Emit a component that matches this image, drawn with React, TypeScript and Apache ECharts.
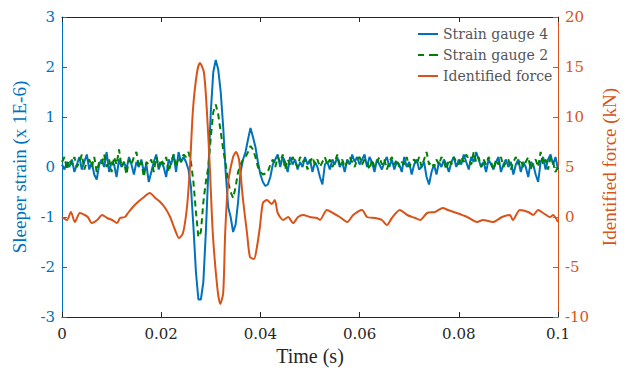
import React, { useEffect, useRef } from "react";
import * as echarts from "echarts";

const STEP = 0.0005;

const gauge4 = [
  0.05, -0.05, 0.1, 0.0, 0.15, -0.1, 0.05, 0.2, -0.05, 0.1,
  0.25, -0.05, 0.1, -0.15, -0.25, 0.05, 0.15, 0.0, 0.3, -0.1,
  0.1, 0.05, -0.2, 0.15, 0.0, 0.1, -0.05, 0.2, 0.05, -0.15,
  0.1, 0.0, 0.15, -0.1, 0.05, -0.3, -0.1, 0.1, 0.25, -0.05,
  0.1, 0.0, -0.2, 0.15, 0.05, 0.25, -0.1, 0.3, 0.1, 0.2,
  0.1, -0.05, -0.4, -1.2, -2.1, -2.65, -2.65, -2.3, -1.3, -0.1,
  1.1, 1.9, 2.14, 1.95, 1.5, 0.8, -0.1, -0.8, -1.0, -1.3,
  -1.15, -0.7, -0.1, 0.15, 0.3, 0.55, 0.78, 0.6, 0.4, 0.1,
  -0.15, -0.3, -0.38, -0.35, -0.2, 0.05, 0.15, 0.25, 0.0, 0.2,
  0.1, -0.1, 0.2, 0.05, 0.15, -0.05, 0.1, 0.0, 0.2, 0.05,
  0.15, -0.1, 0.1, 0.0, -0.2, -0.35, 0.05, 0.1, -0.05, 0.15,
  0.05, 0.2, 0.0, 0.1, -0.1, 0.15, 0.05, 0.25, 0.1, 0.2,
  0.05, 0.15, 0.25, 0.0, 0.2, 0.1, -0.1, 0.15, 0.05, -0.05,
  0.1, 0.2, 0.0, 0.15, -0.05, 0.1, 0.05, -0.1, 0.2, 0.0,
  0.1, -0.15, 0.05, 0.15, -0.05, 0.0, 0.1, -0.2, -0.35, -0.1,
  0.05, -0.15, 0.1, 0.0, 0.15, 0.05, -0.1, 0.1, 0.2, 0.0,
  0.15, 0.05, 0.25, 0.1, -0.05, 0.2, 0.1, 0.3, 0.15, 0.0,
  0.1, -0.1, 0.15, 0.05, -0.05, 0.1, 0.2, -0.1, 0.05, 0.15,
  0.0, 0.1, -0.15, 0.05, 0.15, -0.1, 0.1, 0.0, -0.2, 0.1,
  0.05, -0.15, -0.3, 0.1, 0.2, -0.05, 0.15, 0.25, 0.05, 0.2,
  -0.05,
];

const gauge2 = [
  0.1, 0.2, -0.05, 0.15, 0.05, 0.2, 0.0, 0.1, 0.25, -0.05,
  0.1, 0.15, 0.0, 0.2, -0.1, 0.1, 0.05, 0.25, 0.0, 0.15,
  -0.1, 0.2, 0.05, 0.35, 0.0, 0.1, -0.15, 0.15, 0.05, 0.2,
  0.3, 0.0, 0.1, -0.2, 0.1, 0.05, 0.15, -0.1, 0.2, 0.0,
  0.15, 0.05, 0.2, -0.1, 0.1, 0.25, 0.0, 0.2, 0.1, 0.25,
  0.2, 0.3, 0.1, -0.3, -0.9, -1.4, -1.3, -0.7, -0.3, 0.0,
  0.6, 1.1, 1.25, 1.05, 0.7, 0.35, 0.05, -0.3, -0.5, -0.62,
  -0.4, -0.1, 0.05, 0.15, 0.2, 0.3, 0.42, 0.35, 0.2, 0.0,
  -0.1, -0.15, -0.13, -0.1, 0.05, 0.15, 0.0, 0.2, 0.1, 0.25,
  -0.05, 0.15, 0.05, 0.2, 0.1, 0.0, 0.2, 0.1, 0.15, -0.05,
  0.1, 0.2, 0.05, 0.15, 0.0, 0.1, 0.2, 0.05, 0.15, 0.0,
  0.1, 0.25, 0.05, 0.15, 0.0, 0.1, 0.2, 0.1, 0.0, 0.15,
  0.2, 0.05, 0.15, 0.1, -0.05, 0.15, 0.0, 0.1, 0.2, 0.05,
  0.15, -0.05, 0.1, 0.2, 0.05, 0.15, 0.0, 0.1, 0.05, 0.2,
  0.0, 0.1, 0.15, 0.05, 0.2, 0.0, 0.15, 0.3, 0.05, 0.1,
  0.0, 0.15, 0.05, 0.2, 0.1, -0.05, 0.15, 0.05, 0.2, 0.1,
  0.05, 0.2, 0.1, 0.25, 0.15, 0.05, 0.3, 0.1, 0.2, 0.0,
  0.15, 0.05, 0.2, 0.1, -0.05, 0.15, 0.05, 0.2, 0.0, 0.1,
  0.15, -0.05, 0.1, 0.2, 0.05, 0.15, 0.0, 0.1, 0.2, -0.05,
  0.1, 0.15, 0.0, 0.3, 0.05, 0.15, -0.05, 0.2, 0.1, -0.1,
  0.0,
];

const forceTime = [
  0, 0.001, 0.0018, 0.0026, 0.0036, 0.0046, 0.0052, 0.006, 0.0071, 0.0081,
  0.0091, 0.0101, 0.0111, 0.0117, 0.0127, 0.0133, 0.0143, 0.0153, 0.0163, 0.0177,
  0.0188, 0.0198, 0.0208, 0.0218, 0.0228, 0.0236, 0.0244, 0.0252, 0.0258, 0.0264,
  0.0272, 0.0278, 0.0286, 0.0292, 0.0298, 0.0304, 0.0313, 0.0319, 0.0325, 0.0329,
  0.0335, 0.0345, 0.0351, 0.0357, 0.0365, 0.0373, 0.0379, 0.0387, 0.0393, 0.0399,
  0.0405, 0.0413, 0.0423, 0.0429, 0.0435, 0.0446, 0.0456, 0.0466, 0.0476, 0.0486,
  0.05, 0.0514, 0.052, 0.0534, 0.0546, 0.056, 0.0575, 0.0587, 0.0605, 0.0615,
  0.0631, 0.0645, 0.0655, 0.0665, 0.0681, 0.0696, 0.0712, 0.0722, 0.0736, 0.0752,
  0.0768, 0.0778, 0.0796, 0.0817, 0.0837, 0.0849, 0.0869, 0.0887, 0.0903, 0.0909,
  0.0923, 0.094, 0.095, 0.096, 0.097, 0.0984, 0.099, 0.1,
];

const forceValue = [
  0, -0.3, 0.5, -0.5, 0.4, 0.2, 0, -0.6, -0.3, 0.2,
  -0.1, -0.3, -0.6, -0.1, 0, 0.4, 1.0, 1.5, 1.9, 2.4,
  1.9, 1.5, 0.9, 0, -1.3, -2.1, -1.6, 1.0, 5, 10.7,
  14.4, 15.4, 14.5, 10.7, 5, -1.6, -7, -8.7, -7.6, -1.6,
  3.4, 6, 6.5, 5.7, 1.7, -1.6, -4, -4.2, -3, -1,
  1.4, 1.7, 1.3, 1.7, 0.4, -0.3, 0, -0.6, 0, 0.2,
  0, -0.1, -0.3, 0.7, 0.4, 0, -0.5, 0.2, 0.7, 0,
  -0.1, -0.3, -0.8, -0.1, 0.7, 0.2, -0.1, -0.3, 0.4, 0.5,
  0.9, 0.7, 0.4, 0, -0.5, -0.3, -0.5, 0, 0.2, -0.3,
  0.7, 0.5, 0.2, 0.7, 0.4, 0, 0.2, -0.5,
];

const seriesNames = ["Strain gauge 4", "Strain gauge 2", "Identified force"];

const BLUE = "#0072BD";
const GREEN = "#008000";
const ORANGE = "#D95319";
const DARK = "#262626";
const FONT = "Times New Roman";
const LABEL_FONT = "DejaVu Serif";

const SOLID_ICON = "path://M0,0h20v2h-20z";
const DASH_ICON = "path://M0,0h6v2h-6z M11,0h9v2h-9z";

export default function App() {
  const ref = useRef<HTMLDivElement>(null);

  useEffect(() => {
    if (!ref.current) return;
    const chart = echarts.init(ref.current, undefined, { renderer: "svg" });

    const g4 = gauge4.map((v, i) => [+(i * STEP).toFixed(4), v]);
    const g2 = gauge2.map((v, i) => [+(i * STEP).toFixed(4), v]);
    const fc = forceTime.map((t, i) => [t, forceValue[i]]);

    const xCommon = {
      type: "value" as const,
      min: 0,
      max: 0.1,
      interval: 0.02,
      splitLine: { show: false },
    };

    chart.setOption({
      animation: false,
      grid: { left: 62, right: 76, top: 17, bottom: 54 },
      legend: {
        data: [
          { name: seriesNames[0], icon: SOLID_ICON },
          { name: seriesNames[1], icon: DASH_ICON },
          { name: seriesNames[2], icon: SOLID_ICON },
        ],
        orient: "vertical",
        left: 413,
        top: 22,
        itemWidth: 20,
        itemHeight: 2,
        itemGap: 7,
        textStyle: { fontFamily: LABEL_FONT, fontSize: 14 },
      },
      xAxis: [
        {
          ...xCommon,
          position: "bottom",
          name: "Time (s)",
          nameLocation: "middle",
          nameGap: 28,
          nameTextStyle: { fontFamily: FONT, fontSize: 20, color: DARK },
          axisLine: { show: true, onZero: false, lineStyle: { color: DARK, width: 1 } },
          axisTick: { show: true, inside: true, length: 5, lineStyle: { color: DARK } },
          axisLabel: { fontFamily: LABEL_FONT, fontSize: 15, color: DARK, margin: 9 },
        },
        {
          ...xCommon,
          position: "top",
          axisLine: { show: true, onZero: false, lineStyle: { color: DARK, width: 1 } },
          axisTick: { show: true, inside: true, length: 5, lineStyle: { color: DARK } },
          axisLabel: { show: false },
        },
      ],
      yAxis: [
        {
          type: "value",
          position: "left",
          min: -3,
          max: 3,
          interval: 1,
          name: "Sleeper strain (x 1E-6)",
          nameLocation: "middle",
          nameGap: 25,
          nameTextStyle: { fontFamily: FONT, fontSize: 19, color: BLUE },
          splitLine: { show: false },
          axisLine: { show: true, onZero: false, lineStyle: { color: BLUE, width: 1 } },
          axisTick: { show: true, inside: true, length: 5, lineStyle: { color: BLUE } },
          axisLabel: { fontFamily: LABEL_FONT, fontSize: 15, color: BLUE, margin: 7 },
        },
        {
          type: "value",
          position: "right",
          min: -10,
          max: 20,
          interval: 5,
          name: "Identified force (kN)",
          nameLocation: "middle",
          nameGap: 40,
          nameRotate: 90,
          nameTextStyle: { fontFamily: FONT, fontSize: 19, color: ORANGE },
          splitLine: { show: false },
          axisLine: { show: true, onZero: false, lineStyle: { color: ORANGE, width: 1 } },
          axisTick: { show: true, inside: true, length: 5, lineStyle: { color: ORANGE } },
          axisLabel: { fontFamily: LABEL_FONT, fontSize: 15, color: ORANGE, margin: 7 },
        },
      ],
      series: [
        {
          name: seriesNames[0],
          type: "line",
          xAxisIndex: 0,
          yAxisIndex: 0,
          data: g4,
          showSymbol: false,
          lineStyle: { color: BLUE, width: 2 },
          itemStyle: { color: BLUE },
        },
        {
          name: seriesNames[1],
          type: "line",
          xAxisIndex: 0,
          yAxisIndex: 0,
          data: g2,
          showSymbol: false,
          lineStyle: { color: GREEN, width: 2, type: [6, 4] },
          itemStyle: { color: GREEN },
        },
        {
          name: seriesNames[2],
          type: "line",
          xAxisIndex: 0,
          yAxisIndex: 1,
          data: fc,
          showSymbol: false,
          smooth: 0.25,
          lineStyle: { color: ORANGE, width: 2 },
          itemStyle: { color: ORANGE },
        },
      ],
    });

    return () => chart.dispose();
  }, []);

  return <div ref={ref} style={{ width: 634, height: 371, position: "absolute", left: 0, top: 0 }} />;
}
